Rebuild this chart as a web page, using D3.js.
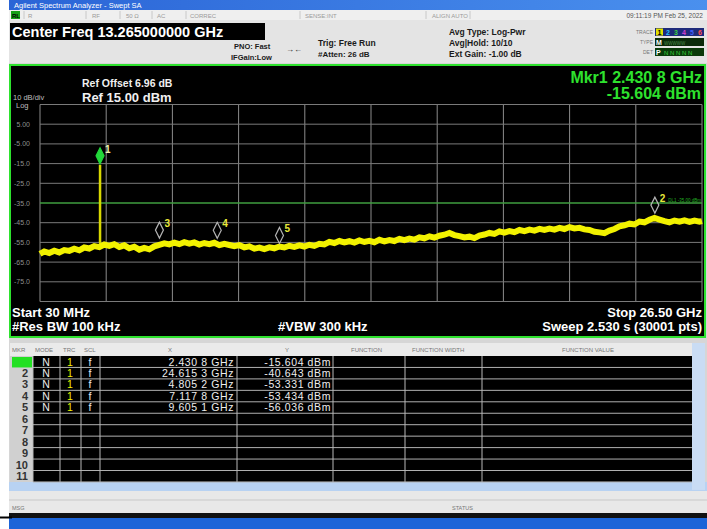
<!DOCTYPE html>
<html>
<head>
<meta charset="utf-8">
<script src="https://cdn.jsdelivr.net/npm/d3@7"></script>
<style>
  html, body { margin: 0; padding: 0; background: #fff; }
  svg { display: block; font-family: 'Liberation Sans', Arial, sans-serif; }
</style>
</head>
<body>
<div id="chart"></div>
<script>
// Trace 1 (GHz / dBm)
const traceFreqGHz = [
  0.03, 0.2, 0.4, 0.6, 0.8, 1.0, 1.2, 1.4, 1.6, 1.8, 2.0, 2.2, 2.4, 2.6, 2.8, 3.0,
  3.2, 3.4, 3.6, 3.8, 4.0, 4.2, 4.4, 4.6, 4.8, 5.0, 5.2, 5.4, 5.6, 5.8, 6.0, 6.2,
  6.4, 6.6, 6.8, 7.0, 7.2, 7.4, 7.6, 7.8, 8.0, 8.2, 8.4, 8.6, 8.8, 9.0, 9.2, 9.4,
  9.6, 9.8, 10.0, 10.2, 10.4, 10.6, 10.8, 11.0, 11.2, 11.4, 11.6, 11.8, 12.0, 12.2,
  12.4, 12.6, 12.8, 13.0, 13.2, 13.4, 13.6, 13.8, 14.0, 14.2, 14.4, 14.6, 14.8, 15.0,
  15.2, 15.4, 15.6, 15.8, 16.0, 16.2, 16.4, 16.6, 16.8, 17.0, 17.2, 17.4, 17.6, 17.8,
  18.0, 18.2, 18.4, 18.6, 18.8, 19.0, 19.2, 19.4, 19.6, 19.8, 20.0, 20.2, 20.4, 20.6,
  20.8, 21.0, 21.2, 21.4, 21.6, 21.8, 22.0, 22.2, 22.4, 22.6, 22.8, 23.0, 23.2, 23.4,
  23.6, 23.8, 24.0, 24.2, 24.4, 24.6, 24.8, 25.0, 25.2, 25.4, 25.6, 25.8, 26.0, 26.2,
  26.4, 26.5
];
const traceLevelDbm = [
  -60.8, -59.6, -60.4, -59.2, -60.1, -58.9, -59.3, -58.2, -59.0, -57.6, -58.1, -56.9,
  -57.4, -56.1, -56.8, -55.9, -57.3, -56.5, -58.0, -57.2, -58.7, -57.8, -58.5, -57.0,
  -56.2, -55.5, -56.0, -55.1, -55.9, -54.9, -55.6, -55.0, -56.1, -55.3, -55.9, -55.2,
  -56.4, -55.7, -56.3, -56.9, -56.4, -57.5, -57.0, -58.2, -57.6, -58.4, -57.5, -58.0,
  -57.1, -57.6, -56.7, -57.3, -56.5, -57.1, -56.2, -56.8, -55.7, -56.0, -54.7, -55.3,
  -54.3, -55.0, -54.4, -55.1, -54.0, -54.8, -54.2, -54.9, -53.7, -54.5, -53.8, -54.3,
  -53.2, -53.9, -53.1, -53.6, -52.4, -52.9, -51.9, -52.6, -51.6, -51.1, -50.2, -51.3,
  -51.8, -52.5, -52.1, -52.8, -51.5, -51.0, -50.2, -50.7, -49.4, -50.0, -49.3, -49.8,
  -48.7, -49.3, -48.5, -49.0, -48.1, -48.7, -48.0, -48.5, -47.6, -48.2, -47.2, -47.9,
  -47.6, -48.4, -48.7, -49.6, -49.9, -50.3, -49.0, -48.2, -46.9, -46.3, -45.5, -45.9,
  -44.4, -44.8, -43.5, -42.6, -43.4, -44.2, -44.8, -43.9, -44.5, -43.8, -44.6, -43.9,
  -44.5, -44.2
];

// CW signal under marker 1
const signalFreqGHz = [2.4308, 2.4308];
const signalLevelDbm = [-57.0, -15.604];

// Markers
const markerIds = [1, 2, 3, 4, 5];
const markerFreqGHz = [2.4308, 24.6153, 4.8052, 7.1178, 9.6051];
const markerLevelDbm = [-15.604, -40.643, -53.331, -53.434, -56.036];
const markerXText = ['2.430 8 GHz', '24.615 3 GHz', '4.805 2 GHz', '7.117 8 GHz', '9.605 1 GHz'];
const markerYText = ['-15.604 dBm', '-40.643 dBm', '-53.331 dBm', '-53.434 dBm', '-56.036 dBm'];
const tableRowIds = [1, 2, 3, 4, 5, 6, 7, 8, 9, 10, 11];

// Axis
const startGHz = 0.03;
const stopGHz = 26.5;
const refLevel = 15;
const bottomLevel = -85;
const yTickValues = [5, -5, -15, -25, -35, -45, -55, -65, -75];
const yTickLabels = ['5.00', '-5.00', '-15.0', '-25.0', '-35.0', '-45.0', '-55.0', '-65.0', '-75.0'];
const displayLineDbm = -35;

const Chart = {
  init() {
    this.setVar();
    this.create();
    this.chrome();
    this.scales();
    this.grid();
    this.trace();
    this.markers();
    this.annotations();
    this.table();
  },

  setVar() {
    this.width = 707;
    this.height = 529;
    this.plot = { left: 40, right: 702, top: 104.5, bottom: 301.5 };
    this.green = '#2ee22e';
    this.yellow = '#f2f200';
  },

  create() {
    this.svg = d3.select('#chart').append('svg')
      .attr('width', this.width)
      .attr('height', this.height);
  },

  chrome() {
    const svg = this.svg;
    const defs = svg.append('defs');
    const grad = defs.append('linearGradient').attr('id', 'titlebar');
    grad.append('stop').attr('offset', '0%').attr('stop-color', '#2a64d6');
    grad.append('stop').attr('offset', '100%').attr('stop-color', '#4a90ee');

    // window background
    svg.append('rect').attr('x', 9).attr('y', 0).attr('width', 698).attr('height', 515).attr('fill', '#d6d6d6');

    // title bar
    svg.append('rect').attr('x', 9).attr('y', 0).attr('width', 698).attr('height', 10).attr('fill', 'url(#titlebar)');
    svg.append('text').attr('x', 14).attr('y', 8).attr('font-size', 7.5).attr('fill', '#fff')
      .text('Agilent Spectrum Analyzer - Swept SA');

    // status row
    svg.append('rect').attr('x', 9).attr('y', 10).attr('width', 698).attr('height', 10).attr('fill', '#efefef');
    svg.append('rect').attr('x', 11).attr('y', 11).attr('width', 9).attr('height', 8).attr('fill', '#16a016');
    svg.append('text').attr('x', 12).attr('y', 17.5).attr('font-size', 6).attr('font-weight', 'bold').attr('fill', '#000').text('RL');
    const statusItems = [[28, 'R'], [92, 'RF'], [126, '50 Ω'], [157, 'AC'], [190, 'CORREC'], [305, 'SENSE:INT'], [432, 'ALIGN AUTO']];
    statusItems.forEach(([x, t]) => {
      svg.append('text').attr('x', x).attr('y', 17.5).attr('font-size', 6).attr('fill', '#9a9a9a').text(t);
    });
    [24, 86, 120, 152, 186, 300, 426, 470].forEach((x) => {
      svg.append('line').attr('x1', x).attr('x2', x).attr('y1', 11).attr('y2', 19).attr('stroke', '#c8c8c8');
    });
    svg.append('text').attr('x', 703).attr('y', 17.5).attr('font-size', 6.5).attr('text-anchor', 'end').attr('fill', '#555')
      .text('09:11:19 PM Feb 25, 2022');

    // settings panel
    svg.append('rect').attr('x', 9).attr('y', 20).attr('width', 698).attr('height', 43).attr('fill', '#e4e4e4');
    svg.append('rect').attr('x', 10).attr('y', 23).attr('width', 255).attr('height', 17).attr('fill', '#000');
    svg.append('text').attr('x', 12).attr('y', 37).attr('font-size', 14.5).attr('font-weight', 'bold').attr('fill', '#fff')
      .text('Center Freq 13.265000000 GHz');

    const bold = (x, y, t, size) => svg.append('text').attr('x', x).attr('y', y).attr('font-size', size || 7.5)
      .attr('font-weight', 'bold').attr('fill', '#1a1a1a').text(t);
    bold(234, 49, 'PNO: Fast', 7.5);
    bold(231, 60, 'IFGain:Low', 7.5);
    svg.append('text').attr('x', 286).attr('y', 52).attr('font-size', 8).attr('fill', '#222').text('→←');
    bold(318, 46, 'Trig: Free Run', 8.5);
    bold(318, 57, '#Atten: 26 dB', 8);
    bold(449, 35, 'Avg Type: Log-Pwr', 8.5);
    bold(449, 46, 'Avg|Hold: 10/10', 8.5);
    bold(449, 57, 'Ext Gain: -1.00 dB', 8.5);

    // trace / type / det indicator
    [['TRACE', 34], ['TYPE', 44], ['DET', 54]].forEach(([t, y]) => {
      svg.append('text').attr('x', 653).attr('y', y).attr('font-size', 5).attr('text-anchor', 'end').attr('fill', '#777').text(t);
    });
    svg.append('rect').attr('x', 655).attr('y', 28).attr('width', 49).attr('height', 8).attr('fill', '#1d2a7a');
    svg.append('rect').attr('x', 656).attr('y', 28.5).attr('width', 7).attr('height', 7).attr('fill', '#e0e000');
    svg.append('text').attr('x', 657.5).attr('y', 34.5).attr('font-size', 7).attr('font-weight', 'bold').attr('fill', '#000').text('1');
    ['#22c0ff', '#3cd23c', '#d040d0', '#4060ff', '#ff5050'].forEach((c, i) => {
      svg.append('text').attr('x', 666 + i * 8).attr('y', 34.5).attr('font-size', 7).attr('font-weight', 'bold').attr('fill', c).text(i + 2);
    });
    svg.append('rect').attr('x', 655).attr('y', 38).attr('width', 49).attr('height', 8).attr('fill', '#0a2a0a');
    svg.append('text').attr('x', 656).attr('y', 44.5).attr('font-size', 7).attr('font-weight', 'bold').attr('fill', '#fff').text('M');
    svg.append('text').attr('x', 664).attr('y', 44.5).attr('font-size', 4.5).attr('fill', '#4a8a4a').text('WWWWW');
    svg.append('rect').attr('x', 655).attr('y', 48).attr('width', 49).attr('height', 8).attr('fill', '#0a3a0a');
    svg.append('text').attr('x', 656).attr('y', 54.5).attr('font-size', 7).attr('font-weight', 'bold').attr('fill', '#fff').text('P');
    svg.append('text').attr('x', 664).attr('y', 54.5).attr('font-size', 6).attr('fill', '#3cd23c').text('N N N N N');

    // graph window
    svg.append('rect').attr('x', 10).attr('y', 65).attr('width', 695).attr('height', 272)
      .attr('fill', '#000').attr('stroke', this.green).attr('stroke-width', 2);

    // left white strip
    svg.append('rect').attr('x', 0).attr('y', 0).attr('width', 9).attr('height', 515).attr('fill', '#fff');

    // bottom scroll + message bars
    svg.append('rect').attr('x', 9).attr('y', 482).attr('width', 698).attr('height', 9).attr('fill', '#b8d2f2');
    svg.append('rect').attr('x', 9).attr('y', 491).attr('width', 698).attr('height', 22).attr('fill', '#e8e8e8');
    svg.append('line').attr('x1', 9).attr('x2', 707).attr('y1', 500).attr('y2', 500).attr('stroke', '#c8c8c8');
    svg.append('text').attr('x', 12).attr('y', 510).attr('font-size', 5.5).attr('fill', '#777').text('MSG');
    svg.append('text').attr('x', 452).attr('y', 510).attr('font-size', 5.5).attr('fill', '#777').text('STATUS');
    svg.append('rect').attr('x', 9).attr('y', 513).attr('width', 698).attr('height', 5).attr('fill', '#111');
    svg.append('rect').attr('x', 9).attr('y', 518).attr('width', 698).attr('height', 11).attr('fill', '#1c64d8');
    svg.append('line').attr('x1', 0).attr('x2', 12).attr('y1', 517.5).attr('y2', 517.5).attr('stroke', '#000').attr('stroke-width', 2);
  },

  scales() {
    this.x = d3.scaleLinear()
      .domain([startGHz, stopGHz])
      .range([this.plot.left, this.plot.right]);

    this.y = d3.scaleLinear()
      .domain([bottomLevel, refLevel])
      .range([this.plot.bottom, this.plot.top]);
  },

  grid() {
    const { x, y, plot } = this;
    const g = this.svg.append('g');

    // 10 divisions each way
    const xDivs = d3.range(11).map((i) => startGHz + i * (stopGHz - startGHz) / 10);
    const yDivs = d3.range(11).map((i) => refLevel - i * 10);

    g.selectAll('.v-line').data(xDivs).enter().append('line')
      .attr('class', 'v-line')
      .attr('x1', (d) => x(d)).attr('x2', (d) => x(d))
      .attr('y1', plot.top).attr('y2', plot.bottom)
      .attr('stroke', '#8c8c8c').attr('stroke-width', 1);

    g.selectAll('.h-line').data(yDivs).enter().append('line')
      .attr('class', 'h-line')
      .attr('x1', plot.left).attr('x2', plot.right)
      .attr('y1', (d) => y(d)).attr('y2', (d) => y(d))
      .attr('stroke', '#7a7a7a').attr('stroke-width', 1);

    g.selectAll('.y-label').data(yTickValues).enter().append('text')
      .attr('class', 'y-label')
      .attr('x', 30)
      .attr('y', (d) => y(d) + 2.5)
      .attr('text-anchor', 'end')
      .attr('font-size', 7)
      .attr('fill', '#8e8e8e')
      .text((d, i) => yTickLabels[i]);

    // display line
    g.append('line')
      .attr('x1', plot.left).attr('x2', plot.right)
      .attr('y1', y(displayLineDbm)).attr('y2', y(displayLineDbm))
      .attr('stroke', '#22b022').attr('stroke-width', 1);
    g.append('text')
      .attr('x', plot.right - 1).attr('y', y(displayLineDbm) - 1.5)
      .attr('text-anchor', 'end').attr('font-size', 4.5).attr('fill', '#22b022')
      .text('DL1 -35.00 dBm');
  },

  trace() {
    const { x, y } = this;
    const traceData = traceFreqGHz.map((f, i) => ({ f, db: traceLevelDbm[i] }));
    const signalData = signalFreqGHz.map((f, i) => ({ f, db: signalLevelDbm[i] }));

    const line = d3.line()
      .x((d) => x(d.f))
      .y((d) => y(d.db))
      .curve(d3.curveLinear);

    this.svg.append('path')
      .attr('d', line(signalData))
      .attr('fill', 'none')
      .attr('stroke', '#d8d800')
      .attr('stroke-width', 2.5);

    this.svg.append('path')
      .attr('d', line(traceData))
      .attr('fill', 'none')
      .attr('stroke', this.yellow)
      .attr('stroke-width', 6)
      .attr('stroke-linejoin', 'miter')
      .attr('stroke-miterlimit', 3);
  },

  markers() {
    const { x, y } = this;
    const data = markerIds.map((id, i) => ({ id, f: markerFreqGHz[i], db: markerLevelDbm[i] }));
    const g = this.svg.append('g');

    const diamond = (d) => {
      const cx = x(d.f);
      const by = y(d.db) - 1;
      return `M${cx},${by} L${cx + 4},${by - 8} L${cx},${by - 16} L${cx - 4},${by - 8} Z`;
    };

    g.selectAll('.marker').data(data).enter().append('path')
      .attr('class', 'marker')
      .attr('d', diamond)
      .attr('fill', (d) => d.id === 1 ? '#22d83a' : 'none')
      .attr('stroke', (d) => d.id === 1 ? '#22d83a' : '#b4b4b4')
      .attr('stroke-width', 1.2);

    g.selectAll('.marker-label').data(data).enter().append('text')
      .attr('class', 'marker-label')
      .attr('x', (d) => x(d.f) + 5)
      .attr('y', (d) => y(d.db) - 12)
      .attr('font-size', 10)
      .attr('font-weight', 'bold')
      .attr('fill', (d) => d.id === 1 ? '#f4f4b0' : '#e8e83a')
      .text((d) => d.id);
  },

  annotations() {
    const svg = this.svg;
    const txt = (xp, yp, t, size, color, anchor, weight) => svg.append('text')
      .attr('x', xp).attr('y', yp).attr('font-size', size)
      .attr('fill', color).attr('text-anchor', anchor || 'start')
      .attr('font-weight', weight || 'bold').text(t);

    txt(82, 87, 'Ref Offset 6.96 dB', 10.5, '#f0f0f0');
    txt(82, 101.5, 'Ref  15.00 dBm', 13, '#f0f0f0');
    txt(13, 99.5, '10 dB/div', 7.5, '#bdbdbd', 'start', 'normal');
    txt(16, 108, 'Log', 7.5, '#bdbdbd', 'start', 'normal');

    txt(702, 82.5, 'Mkr1 2.430 8 GHz', 16, this.green, 'end');
    txt(701, 98.5, '-15.604 dBm', 16, this.green, 'end');

    txt(12, 317, 'Start 30 MHz', 13, '#fff');
    txt(12, 331, '#Res BW 100 kHz', 13, '#fff');
    txt(278, 331, '#VBW 300 kHz', 13, '#fff');
    txt(702, 317, 'Stop 26.50 GHz', 13, '#fff', 'end');
    txt(702, 331, 'Sweep  2.530 s (30001 pts)', 13, '#fff', 'end');
  },

  table() {
    const svg = this.svg;
    const top = 343;
    const headH = 13;
    const rowH = 11.45;
    const rows0 = top + headH;
    const bottom = rows0 + rowH * tableRowIds.length;

    // header strip
    svg.append('rect').attr('x', 10).attr('y', top).attr('width', 682).attr('height', headH).attr('fill', '#eaeaea');
    [[12, 'MKR'], [35, 'MODE'], [63, 'TRC'], [84, 'SCL'], [168, 'X'], [285, 'Y'], [351, 'FUNCTION'],
      [412, 'FUNCTION WIDTH'], [562, 'FUNCTION VALUE']].forEach(([xp, t]) => {
      svg.append('text').attr('x', xp).attr('y', top + 9).attr('font-size', 6).attr('fill', '#777').text(t);
    });

    // body
    svg.append('rect').attr('x', 33).attr('y', rows0).attr('width', 659).attr('height', bottom - rows0).attr('fill', '#000');
    svg.append('rect').attr('x', 10).attr('y', rows0).attr('width', 23).attr('height', bottom - rows0).attr('fill', '#d0d0d0');
    svg.append('rect').attr('x', 692).attr('y', top).attr('width', 13).attr('height', bottom - top + 8).attr('fill', '#c9dcf4');

    const rowG = svg.append('g');
    rowG.selectAll('.row-line').data(tableRowIds).enter().append('line')
      .attr('class', 'row-line')
      .attr('x1', 33).attr('x2', 692)
      .attr('y1', (d) => rows0 + d * rowH).attr('y2', (d) => rows0 + d * rowH)
      .attr('stroke', '#b0b0b0').attr('stroke-width', 1);

    [33, 60, 81, 100, 237, 333, 405, 482].forEach((xp) => {
      svg.append('line').attr('x1', xp).attr('x2', xp).attr('y1', rows0).attr('y2', bottom)
        .attr('stroke', '#b8b8b8').attr('stroke-width', 1);
    });

    // active marker highlight
    svg.append('rect').attr('x', 12).attr('y', rows0 + 1).attr('width', 20).attr('height', rowH - 1).attr('fill', '#22e022');

    rowG.selectAll('.mkr-id').data(tableRowIds).enter().append('text')
      .attr('class', 'mkr-id')
      .attr('x', 28).attr('y', (d, i) => rows0 + i * rowH + 9.5)
      .attr('text-anchor', 'end').attr('font-size', 11).attr('font-weight', 'bold')
      .attr('fill', '#333').text((d) => d);

    const data = markerIds.map((id, i) => ({ id, xt: markerXText[i], yt: markerYText[i] }));
    const cell = (cls, xp, anchor, color, fn, ls) => rowG.selectAll(cls).data(data).enter().append('text')
      .attr('x', xp).attr('y', (d, i) => rows0 + i * rowH + 9.5)
      .attr('text-anchor', anchor).attr('font-size', 10.5).attr('letter-spacing', ls || 0)
      .attr('fill', color).text(fn);

    cell('.c-mode', 46, 'middle', '#eee', () => 'N');
    cell('.c-trc', 70, 'middle', this.yellow, () => '1');
    cell('.c-scl', 90, 'middle', '#eee', () => 'f');
    cell('.c-x', 234, 'end', '#eee', (d) => d.xt, 0.6);
    cell('.c-y', 331, 'end', '#eee', (d) => d.yt, 0.6);
  },
};

Chart.init();
</script>
</body>
</html>
